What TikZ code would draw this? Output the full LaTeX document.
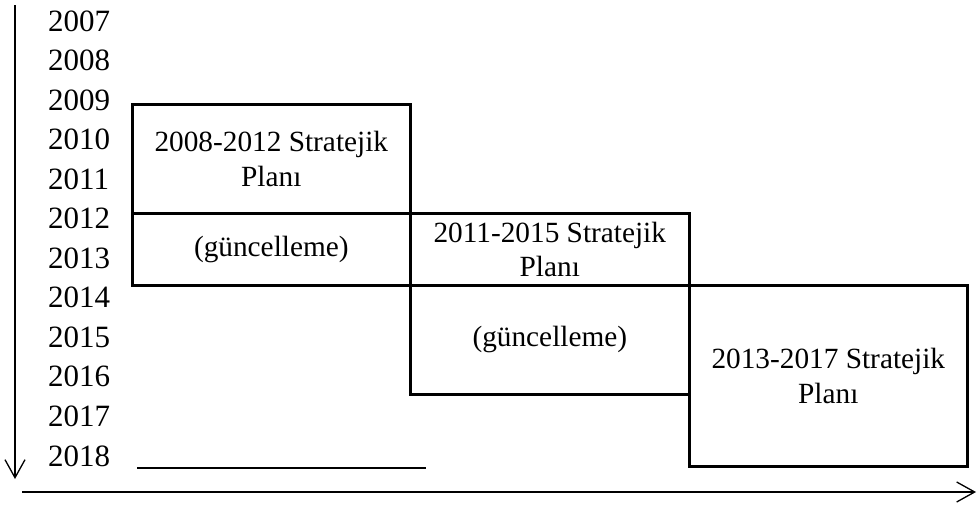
\documentclass[tikz,border=0pt]{standalone}
\usepackage{fontspec}
\setmainfont{Liberation Serif}
\usetikzlibrary{arrows.meta}
\begin{document}
\begin{tikzpicture}[x=1pt,y=-1pt,
  txt/.style={font=\fontsize{29.3}{34.5}\selectfont},
  yearlbl/.style={font=\fontsize{31}{36}\selectfont, anchor=base west, inner sep=0pt},
  box/.style={draw, line width=2.6pt, anchor=north west, inner sep=0pt, txt, align=center},
  arr/.style={line width=1.3pt, -{Straight Barb[length=18pt,width=20pt,line width=1.3pt]}},
  plain/.style={line width=2pt}
]
\useasboundingbox (0,0) rectangle (977,506);
% years
\foreach \i [count=\k from 0] in {2007,2008,...,2018}{
  \node[yearlbl] (y\i) at (48,{31+\k*39.55}) {\i};
}
% boxes
\node[box, minimum width=278pt, minimum height=109pt] (b1a) at (131,103) {2008-2012 Stratejik\\Planı};
\node[box, minimum width=278pt, minimum height=72pt] (b1b) at (131,212) {(güncelleme)};
\node[box, minimum width=279pt, minimum height=72pt] (b2a) at (409,212) {2011-2015 Stratejik\\Planı};
\node[box, minimum width=279pt, minimum height=109pt] (b2b) at (409,284) {(güncelleme)};
\node[box, minimum width=278pt, minimum height=181pt] (b3) at (688,284) {2013-2017 Stratejik\\Planı};
% line under 2018
\coordinate (l1) at (137,468);
\coordinate (l2) at (426,468);
\draw[plain] (l1) -- (l2);
% axes
\coordinate (vt) at (15,5);
\coordinate (vb) at (15,479);
\draw[arr] (vt) -- (vb);
\coordinate (hl) at (22,492);
\coordinate (hr) at (976,492);
\draw[arr] (hl) -- (hr);
\end{tikzpicture}
\end{document}
